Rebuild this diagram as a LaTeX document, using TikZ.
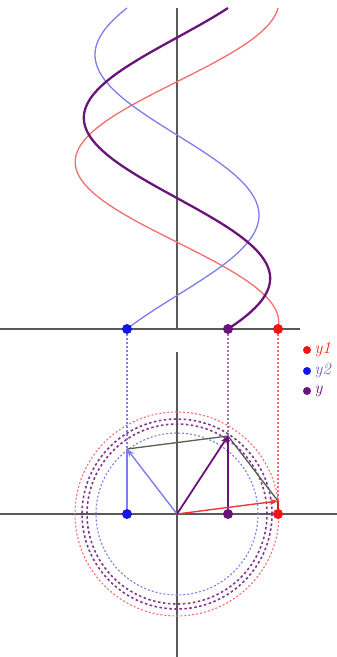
\documentclass[tikz,border=0pt]{standalone}
\usetikzlibrary{arrows.meta}
\definecolor{cred}{RGB}{240,20,20}
\definecolor{cblue}{RGB}{20,20,235}
\definecolor{cpur}{RGB}{105,20,120}
\definecolor{lred}{RGB}{242,110,110}
\definecolor{lblue}{RGB}{125,125,235}
\definecolor{cgray}{RGB}{85,95,85}
\begin{document}
\begin{tikzpicture}[x=1pt,y=-1pt,
  dot/.style={circle,fill=#1,inner sep=0pt,minimum size=10pt},
  ldot/.style={circle,fill=#1,inner sep=0pt,minimum size=8pt},
  axis/.style={draw=black!65,line width=1.1pt},
  vec/.style={-{Stealth[length=8pt,width=6pt]},line width=1.4pt},
  dsh/.style={dash pattern=on 2pt off 2pt,line width=1.1pt},
  legtext/.style={anchor=west,inner sep=0pt,font=\fontsize{17}{19}\selectfont\itshape}]
\useasboundingbox (0,0) rectangle (337,657);
% axes
\draw[axis] (0,329) -- (300,329);
\draw[axis] (177,8) -- (177,329);
\draw[axis] (0,514) -- (337,514);
\draw[axis] (177,352) -- (177,657);
% circles
\coordinate (O) at (177,514);
\draw[lred,dsh] (O) circle [radius=102pt];
\draw[cpur!85,line width=1.6pt,dash pattern=on 2.5pt off 2.5pt] (O) circle [radius=95pt];
\draw[cpur!85,line width=1.6pt,dash pattern=on 2.5pt off 2.5pt] (O) circle [radius=90pt];
\draw[lblue,dsh] (O) circle [radius=81pt];
% curves
\draw[lred,line width=1.3pt,domain=0:360,samples=150,smooth,variable=\t]
  plot ({177+101.8*cos(7.33-\t)},{329-0.891667*\t});
\draw[lblue,line width=1.3pt,domain=0:360,samples=150,smooth,variable=\t]
  plot ({177+82*cos(127.57-\t)},{329-0.891667*\t});
\draw[cpur,line width=2.3pt,domain=0:360,samples=150,smooth,variable=\t]
  plot ({177+101.8*cos(7.33-\t)+82*cos(127.57-\t)},{329-0.891667*\t});
% tips
\coordinate (rt) at (278,501);
\coordinate (bt) at (127,449);
\coordinate (pt) at (228,436);
% dots
\node[dot=cblue] (b1) at (127,329) {};
\node[dot=cpur] (p1) at (228,329) {};
\node[dot=cred] (r1) at (278,329) {};
\node[dot=cblue] (b2) at (127,514) {};
\node[dot=cpur] (p2) at (228,514) {};
\node[dot=cred] (r2) at (278,514) {};
% projection dashed lines
\draw[lred,dsh] (r1) -- (r2);
\draw[lblue,dsh] (b1) -- (bt);
\draw[cpur!60,dsh] (p1) -- (pt);
% verticals
\draw[lblue,line width=1.5pt] (b2) -- (bt);
\draw[cpur,line width=1.8pt] (p2) -- (pt);
\draw[cred,line width=1.3pt] (r2) -- (rt);
% parallelogram
\draw[cgray,line width=1.3pt] (bt) -- (pt);
\draw[cgray,line width=1.3pt] (rt) -- (pt);
% vectors
\draw[vec,lblue] (O) -- (bt);
\draw[vec,cred!85] (O) -- (rt);
\draw[vec,cpur,line width=1.8pt] (O) -- (pt);
% legend
\node[ldot=cred] (l1) at (307,350) {};
\node[ldot=cblue] (l2) at (307,371) {};
\node[ldot=cpur] (l3) at (307,391) {};
\node[legtext,text=cred!80!orange] at ([xshift=3pt]l1.east) {y1};
\node[legtext,text=lblue!80!black] at ([xshift=3pt]l2.east) {y2};
\node[legtext,text=cpur] at ([xshift=3pt]l3.east) {y};
\end{tikzpicture}
\end{document}
